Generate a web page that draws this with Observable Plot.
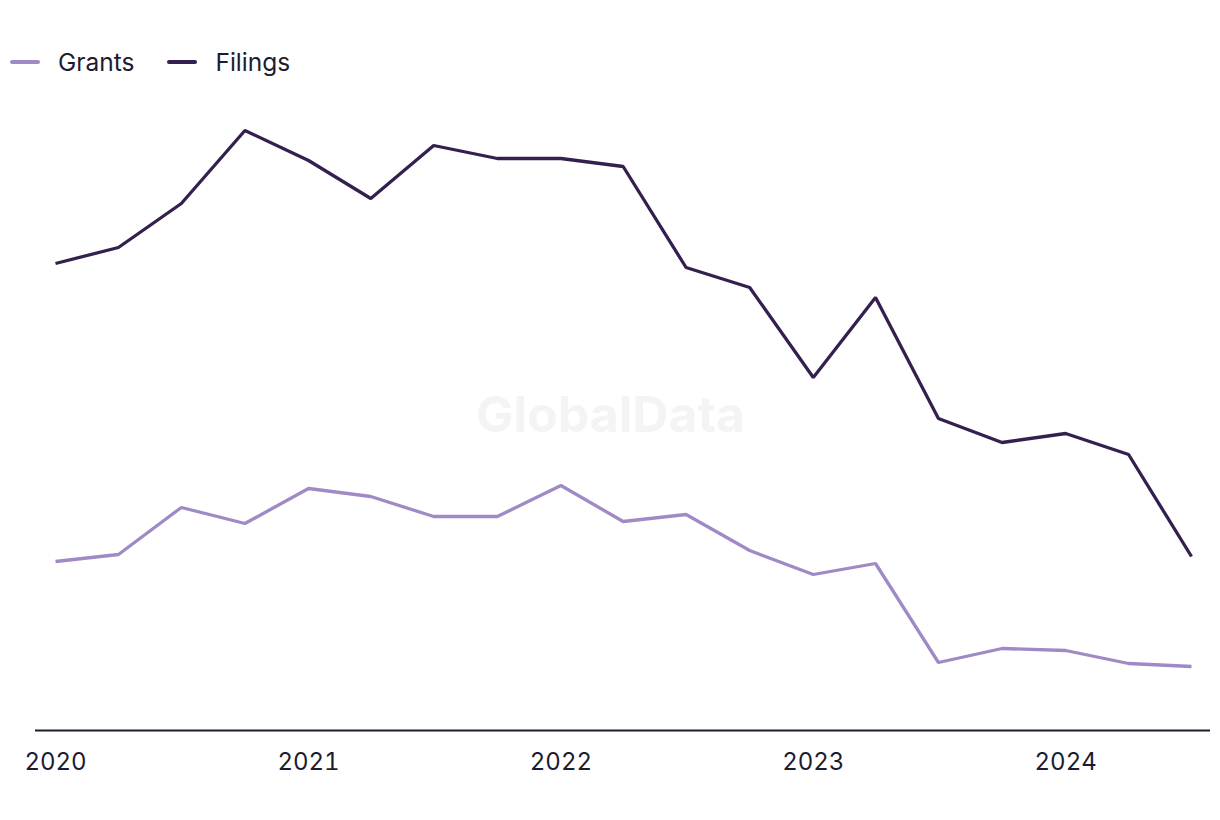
<!DOCTYPE html>
<html>
<head>
<meta charset="utf-8">
<script src="https://cdn.jsdelivr.net/npm/d3@7"></script>
<script src="https://cdn.jsdelivr.net/npm/@observablehq/plot@0.6"></script>
<style>
  html, body { margin: 0; padding: 0; background: #fff; }
  body { width: 1220px; height: 820px; position: relative; overflow: hidden; font-family: Inter, "Noto Sans", sans-serif; color: #1c1c30; }
  #legend { position: absolute; left: 10px; top: 46px; height: 32px; display: flex; align-items: center; font-size: 24.5px; }
  .item { display: flex; align-items: center; margin-right: 33px; }
  .sw { width: 30px; height: 4px; border-radius: 2px; margin-right: 18px; }
  #chart { position: absolute; left: 0; top: 100px; }
</style>
</head>
<body>
<div id="legend"></div>
<div id="chart"></div>
<script>
const quarters = ["2020-Q1","2020-Q2","2020-Q3","2020-Q4","2021-Q1","2021-Q2","2021-Q3","2021-Q4","2022-Q1","2022-Q2","2022-Q3","2022-Q4","2023-Q1","2023-Q2","2023-Q3","2023-Q4","2024-Q1","2024-Q2","2024-Q3"];
const filings = [467,483,527,600,570,532,585,572,572,564,463,443,353,433,312,288,297,276,174];
const grants  = [169,176,223,207,242,234,214,214,245,209,216,180,156,167,68,82,80,67,64];
const tickYears = [2020, 2021, 2022, 2023, 2024];
const seriesNames = ["Grants", "Filings"];
const seriesColors = ["#a08ac6", "#33204f"];

const parseQ = q => { const [y, qq] = q.split("-Q"); return new Date(Date.UTC(+y, (+qq - 1) * 3, 1)); };
const data = [];
quarters.forEach((q, i) => {
  data.push({date: parseQ(q), value: grants[i], series: "Grants"});
  data.push({date: parseQ(q), value: filings[i], series: "Filings"});
});

const legend = document.getElementById("legend");
seriesNames.forEach((name, i) => {
  const it = document.createElement("div");
  it.className = "item";
  it.innerHTML = `<span class="sw" style="background:${seriesColors[i]}"></span><span>${name}</span>`;
  legend.appendChild(it);
});

const chart = Plot.plot({
  width: 1220,
  height: 720,
  marginLeft: 55,
  marginRight: 29,
  marginTop: 0,
  marginBottom: 90,
  style: {fontFamily: "Inter, 'Noto Sans', sans-serif", fontSize: "24px", color: "#1c1c30", background: "transparent"},
  x: {
    type: "utc",
    domain: [parseQ("2020-Q1"), parseQ("2024-Q3")],
    ticks: tickYears.map(y => new Date(Date.UTC(y, 0, 1))),
    tickFormat: d3.utcFormat("%Y"),
    tickSize: 0,
    tickPadding: 22,
    label: null
  },
  y: { domain: [0, 630], axis: null },
  color: { domain: seriesNames, range: seriesColors },
  marks: [
    Plot.text(["GlobalData"], {frameAnchor: "middle", dx: -13, dy: 0, fill: "#f4f4f4", fontSize: 50, fontWeight: "bold", fontFamily: "Inter, 'Noto Sans', sans-serif"}),
    Plot.ruleY([0], {stroke: "#1c1c2e", strokeWidth: 2, insetLeft: -20, insetRight: -19}),
    Plot.line(data, {x: "date", y: "value", z: "series", stroke: "series", strokeWidth: 3.3, strokeLinejoin: "miter", strokeLinecap: "butt"})
  ]
});
document.getElementById("chart").appendChild(chart);
</script>
</body>
</html>
